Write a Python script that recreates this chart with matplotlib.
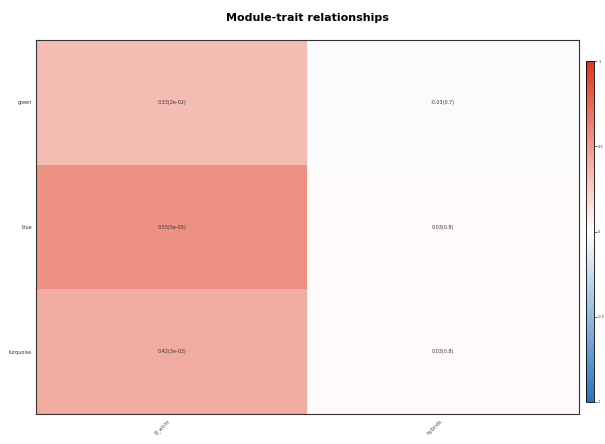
import numpy as np
import matplotlib
matplotlib.use("Agg")
import matplotlib.pyplot as plt
from matplotlib.colors import LinearSegmentedColormap, Normalize
from matplotlib.ticker import FormatStrFormatter

# Module eigengene vs trait correlations
modules = ["green", "blue", "turquoise"]
traits = ["B_wt/m", "hybrids"]
cor = np.array([
    [0.33, -0.03],
    [0.55, 0.03],
    [0.42, 0.03],
])
pvals = [
    ["2e-02", "0.7"],
    ["5e-05", "0.8"],
    ["3e-03", "0.8"],
]
cbar_ticks = [-1, -0.5, 0, 0.5, 1]

cmap = LinearSegmentedColormap.from_list(
    "blueWhiteRed",
    [(0.17, 0.45, 0.74), (1.0, 1.0, 1.0), (0.87, 0.22, 0.12)],
)
norm = Normalize(vmin=-1, vmax=1)

fig = plt.figure(figsize=(6.05, 4.44), dpi=100)
ax = fig.add_axes([0.0595, 0.0676, 0.8975, 0.842])

nrow, ncol = cor.shape
ax.pcolormesh(np.arange(ncol + 1), np.arange(nrow + 1), cor,
              cmap=cmap, norm=norm)
ax.set_xlim(0, ncol)
ax.set_ylim(nrow, 0)

for i in range(nrow):
    for j in range(ncol):
        ax.text(j + 0.5, i + 0.5, f"{cor[i, j]:.2f}({pvals[i][j]})",
                ha="center", va="center", fontsize=3.5, color="#333333")

ax.set_yticks(np.arange(nrow) + 0.5)
ax.set_yticklabels(modules, fontsize=3.5, color="#333333")
ax.set_xticks(np.arange(ncol) + 0.5)
ax.set_xticklabels(traits, fontsize=3.8, color="#555555",
                   rotation=45, ha="right", va="top")
ax.tick_params(length=0, pad=3)
for s in ax.spines.values():
    s.set_linewidth(0.8)
    s.set_color("#333333")

ax.set_title("Module-trait relationships", fontsize=8, fontweight="bold",
             pad=14)

cax = fig.add_axes([0.9686, 0.0946, 0.0132, 0.768])
sm = matplotlib.cm.ScalarMappable(norm=norm, cmap=cmap)
cb = fig.colorbar(sm, cax=cax, ticks=cbar_ticks)
cb.ax.yaxis.set_major_formatter(FormatStrFormatter("%g"))
cb.ax.tick_params(labelsize=2.6, length=2, width=0.5, pad=1, colors="#333333")
cb.outline.set_linewidth(0.6)

fig.savefig("out.png", dpi=100)
